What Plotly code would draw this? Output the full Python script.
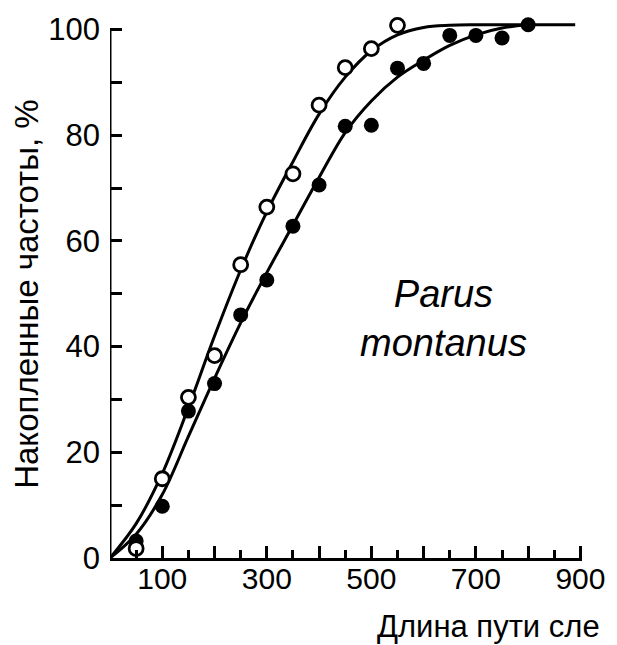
import plotly.graph_objects as go

# Observed points (path length, cumulative frequency %)
open_x = [50, 100, 150, 200, 250, 300, 350, 400, 450, 500, 550]
open_y = [1.8, 15, 30.4, 38.3, 55.5, 66.4, 72.7, 85.7, 92.8, 96.4, 100.8]

filled_x = [50, 100, 150, 200, 250, 300, 350, 400, 450, 500, 550, 600, 650, 700, 750, 800]
filled_y = [3.2, 9.8, 27.8, 33, 46, 52.6, 62.8, 70.6, 81.7, 81.9, 92.7, 93.6, 98.9, 98.9, 98.4, 100.9]

# Fitted curves
open_curve_x = [0, 50, 100, 150, 200, 250, 300, 350, 400, 450, 500, 550, 600, 650, 700, 890]
open_curve_y = [0, 6.5, 16, 28.5, 42, 54.5, 65.5, 75, 84, 91, 96, 99, 100.4, 100.8, 100.9, 100.9]

filled_curve_x = [0, 50, 100, 150, 200, 250, 300, 350, 400, 450, 500, 550, 600, 650, 700, 750, 800]
filled_curve_y = [0, 4.5, 12, 23, 34, 44.5, 54, 63, 72, 80.5, 86.5, 91, 94.2, 97, 99, 100.3, 100.9]

x_tickvals = [100, 200, 300, 400, 500, 600, 700, 800, 900]
x_ticktext = ["100", "", "300", "", "500", "", "700", "", "900"]
y_tickvals = [0, 10, 20, 30, 40, 50, 60, 70, 80, 90, 100]
y_ticktext = ["0", "", "20", "", "40", "", "60", "", "80", "", "100"]

FONT = "Liberation Sans, Arial, sans-serif"

fig = go.Figure()
fig.add_trace(go.Scatter(x=open_curve_x, y=open_curve_y, mode="lines",
                         line=dict(color="black", width=3, shape="spline", smoothing=1),
                         hoverinfo="skip"))
fig.add_trace(go.Scatter(x=filled_curve_x, y=filled_curve_y, mode="lines",
                         line=dict(color="black", width=3, shape="spline", smoothing=1),
                         hoverinfo="skip"))
fig.add_trace(go.Scatter(x=filled_x, y=filled_y, mode="markers", cliponaxis=False,
                         marker=dict(size=15, color="black", line=dict(width=0))))
fig.add_trace(go.Scatter(x=open_x, y=open_y, mode="markers", cliponaxis=False,
                         marker=dict(size=14, color="white", line=dict(width=2.8, color="black"))))

fig.update_layout(
    width=617, height=645,
    margin=dict(l=110, r=28, t=17, b=87),
    paper_bgcolor="white", plot_bgcolor="white",
    showlegend=False,
    font=dict(family=FONT, color="black"),
    xaxis=dict(range=[0, 903], showgrid=False, zeroline=False,
               showline=True, linecolor="black", linewidth=3,
               tickmode="array", tickvals=x_tickvals, ticktext=x_ticktext,
               ticks="inside", ticklen=12, tickwidth=2.5, tickcolor="black",
               minor=dict(dtick=50, tick0=0, ticks="inside", ticklen=8, tickwidth=2.5, tickcolor="black"),
               tickfont=dict(size=30, family=FONT, color="black"),
               ticklabelstandoff=-8),
    yaxis=dict(range=[0, 102], showgrid=False, zeroline=False,
               showline=False,
               tickmode="array", tickvals=y_tickvals, ticktext=y_ticktext,
               ticks="inside", ticklen=12, tickwidth=2.5, tickcolor="black",
               tickfont=dict(size=31, family=FONT, color="black"),
               ticklabelstandoff=9),
)

# y axis line (stops at 100)
fig.add_shape(type="line", xref="x", yref="y", x0=0, x1=0, y0=0, y1=100.3,
              line=dict(color="black", width=3))

fig.add_annotation(text="Parus<br>montanus", xref="paper", yref="paper",
                   x=0.707, y=0.4435, xanchor="center", yanchor="middle",
                   showarrow=False, align="center",
                   font=dict(size=38, family=FONT, color="black", style="italic"))
fig.add_annotation(text="Длина пути сле", xref="paper", yref="paper",
                   x=1.042, y=-0.128, xanchor="right", yanchor="middle",
                   showarrow=False, font=dict(size=31, family=FONT, color="black"))
fig.add_annotation(text="Накопленные частоты, %", xref="paper", yref="paper",
                   x=-0.176, y=0.49, xanchor="center", yanchor="middle", textangle=-90,
                   showarrow=False, font=dict(size=33, family=FONT, color="black"))

fig.write_html("out.html", config={"displayModeBar": False},
               post_script="document.body.style.margin='0';document.body.style.overflow='hidden';")
